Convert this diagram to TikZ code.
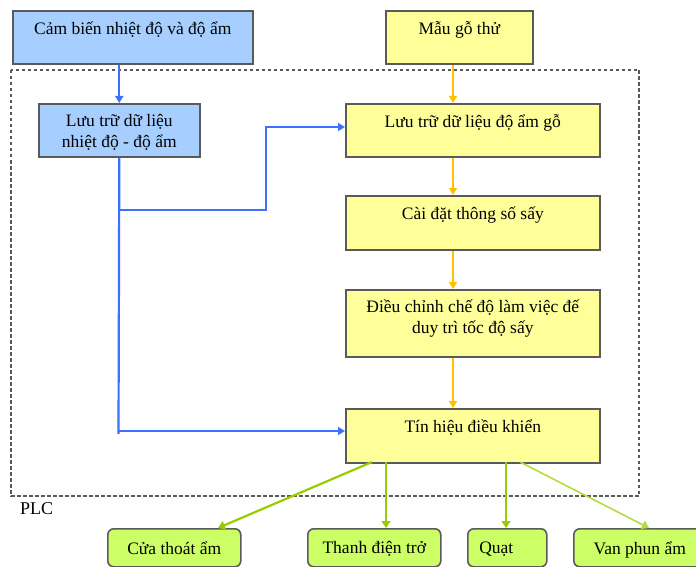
\documentclass[tikz,border=0pt]{standalone}
\usepackage{fontspec}
\setmainfont{Liberation Serif}
\usetikzlibrary{arrows.meta}
\definecolor{bfill}{HTML}{A6CFFF}
\definecolor{yfill}{HTML}{FFFF99}
\definecolor{gfill}{HTML}{CCFF66}
\definecolor{bline}{HTML}{3F6FFF}
\definecolor{oline}{HTML}{FFC000}
\definecolor{gline}{HTML}{99CC00}
\definecolor{gline2}{HTML}{B4DC3C}
\definecolor{edge}{HTML}{5A5A5A}
\newcommand{\bxt}[4][11]{\parbox[c][#3pt][t]{#2pt}{\centering\vspace*{#1pt}#4\par}}
\tikzset{
  bbox/.style={draw=edge, line width=1.6pt, inner sep=0pt, anchor=north west,
    font=\fontsize{17.5}{21}\selectfont},
  bluebox/.style={bbox, fill=bfill},
  yelbox/.style={bbox, fill=yfill},
  grnbox/.style={bbox, fill=gfill, rounded corners=6pt},
  bluearr/.style={draw=bline, line width=2.2pt, -{Triangle[length=7pt,width=8pt]}},
  bluelin/.style={draw=bline, line width=2.2pt},
  orarr/.style={draw=oline, line width=2.2pt, -{Triangle[length=7pt,width=8pt]}},
  grarr/.style={draw=gline, line width=2.2pt, -{Triangle[length=7pt,width=9pt]}},
  grarr2/.style={draw=gline2, line width=1.6pt, -{Triangle[length=7pt,width=9pt]}},
  plcbox/.style={draw=gray!70!black, line width=1.3pt, dash pattern=on 3.5pt off 2.5pt}
}
\begin{document}
\begin{tikzpicture}[x=1pt,y=-1pt]
\useasboundingbox (0,0) rectangle (696,567);
% PLC frame
\draw[plcbox] (11,70) rectangle (639,496);
\node[anchor=west, inner sep=0pt, font=\fontsize{18}{20}\selectfont] (plc) at (20,509) {PLC};
% top boxes
\node[bluebox] (b1) at (12,10) {\bxt{240}{53}{Cảm biến nhiệt độ và độ ẩm}};
\node[yelbox] (b2) at (385,10) {\bxt{147}{53}{Mẫu gỗ thử}};
% PLC internal
\node[bluebox] (b3) at (38,103) {\bxt{161}{53}{Lưu trữ dữ liệu\\ nhiệt độ - độ ẩm}};
\node[yelbox] (b4) at (345,103) {\bxt{254}{53}{Lưu trữ dữ liệu độ ẩm gỗ}};
\node[yelbox] (b5) at (345,195) {\bxt{254}{54}{Cài đặt thông số sấy}};
\node[yelbox] (b6) at (345,289) {\bxt[10]{254}{67}{Điều chỉnh chế độ làm việc đế\\ duy trì tốc độ sấy}};
\node[yelbox] (b7) at (345,408) {\bxt{254}{54}{Tín hiệu điều khiển}};
% actuators
\node[grnbox] (c1) at (107,528) {\bxt[13]{133}{38}{Cửa thoát ẩm}};
\node[grnbox] (c2) at (307,528) {\bxt[13]{133}{38}{Thanh điện trở}};
\node[grnbox] (c3) at (467,528) {\bxt[13]{79}{38}{\hspace*{-22pt}Quạt}};
\node[grnbox] (c4) at (573,528) {\bxt[13]{132}{38}{Van phun ẩm}};
% helper coordinates
\coordinate (spine) at (453,0);
\coordinate (bj1) at (118.5,210);
\coordinate (bj2) at (266,210);
\coordinate (bj3) at (266,127);
\coordinate (bend) at (118.5,434);
\coordinate (bj4) at (118.5,431);
% blue connectors
\draw[bluearr] (b1.south -| b3.north) -- (b3.north);
\draw[bluelin] (b3.south) -- (bend);
\draw[bluearr] (bj1) -- (bj2) -- (bj3) -- (bj3 -| b4.west);
\draw[bluearr] (bj4) -- (bj4 -| b7.west);
% orange connectors
\draw[orarr] (b2.south -| spine) -- (b4.north -| spine);
\draw[orarr] (b4.south -| spine) -- (b5.north -| spine);
\draw[orarr] (b5.south -| spine) -- (b6.north -| spine);
\draw[orarr] (b6.south -| spine) -- (b7.north -| spine);
% green connectors
\coordinate (g1) at (372,462);
\coordinate (g2) at (386,462);
\coordinate (g3) at (506,462);
\coordinate (g4) at (520,462);
\coordinate (t1) at (218,528);
\coordinate (t4) at (649,528);
\draw[grarr] (g1) -- (t1);
\draw[grarr] (g2) -- (g2 |- c2.north);
\draw[grarr] (g3) -- (g3 |- c3.north);
\draw[grarr2] (g4) -- (t4);
\end{tikzpicture}
\end{document}
